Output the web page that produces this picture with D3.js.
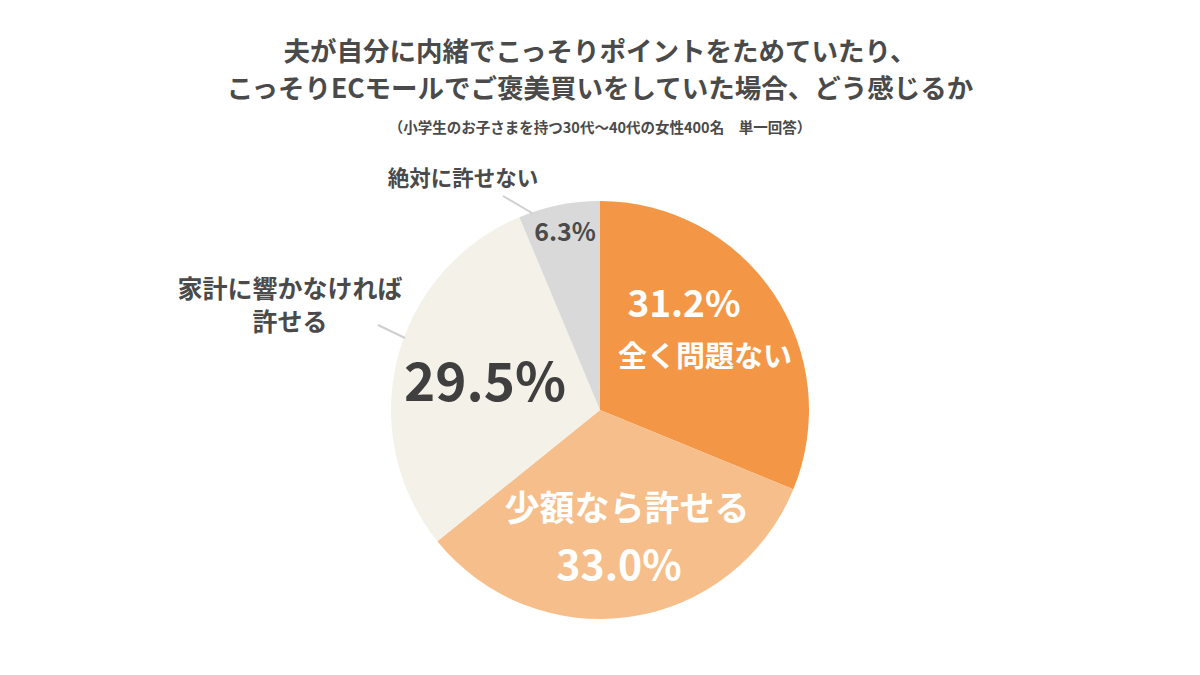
<!DOCTYPE html>
<html><head><meta charset="utf-8">
<script src="https://cdn.jsdelivr.net/npm/d3@7"></script>
<style>body{margin:0;background:#fff;}svg{display:block;font-family:"Noto Sans CJK JP","Noto Sans",sans-serif;}</style>
</head><body>
<svg id="c" width="1200" height="675"></svg>
<script>
const categories = ["全く問題ない","少額なら許せる","家計に響かなければ許せる","絶対に許せない"];
const values = [31.2, 33.0, 29.5, 6.3];
const colors = ["#F39746","#F6BE8B","#F3F1E8","#D9D9D9"];
const titleLines = ["夫が自分に内緒でこっそりポイントをためていたり、","こっそりECモールでご褒美買いをしていた場合、どう感じるか"];
const subtitle = "（小学生のお子さまを持つ30代〜40代の女性400名　単一回答）";

const svg = d3.select("#c");
const cx = 600, cy = 410, R = 209;
const textCol = "#4a4a4a";

svg.selectAll("text.title").data(titleLines).join("text")
  .attr("x", 600).attr("y", (d,i)=>61+i*37)
  .attr("text-anchor","middle").attr("font-size",26.5).attr("font-weight",700)
  .attr("fill",textCol).text(d=>d);
svg.append("text").attr("x",600).attr("y",133).attr("text-anchor","middle")
  .attr("font-size",14.5).attr("font-weight",700).attr("fill",textCol).text(subtitle);

const pie = d3.pie().sort(null).value(d=>d)(values);
const arc = d3.arc().innerRadius(0).outerRadius(R);
const g = svg.append("g").attr("transform",`translate(${cx},${cy})`);
g.selectAll("path").data(pie).join("path").attr("d",arc).attr("fill",(d,i)=>colors[i]);

// leader lines
const lineCol = "#cfcfcf";
svg.append("line").attr("x1",503).attr("y1",196).attr("x2",532).attr("y2",213).attr("stroke",lineCol).attr("stroke-width",2);
svg.append("line").attr("x1",378).attr("y1",325).attr("x2",405).attr("y2",338).attr("stroke",lineCol).attr("stroke-width",2);

function t(x,y,s,size,fill){
  svg.append("text").attr("x",x).attr("y",y).attr("text-anchor","middle")
    .attr("font-size",size).attr("font-weight",700).attr("fill",fill).text(s);
}
const pct = v => v.toFixed(1)+"%";
t(684,317,pct(values[0]),37,"#fff");
t(705,367,categories[0],29,"#fff");
t(627,521,categories[1],35,"#fff");
t(619,580,pct(values[1]),41,"#fff");
t(485,401,pct(values[2]),53,"#3f3f3f");
t(565,241,pct(values[3]),25,textCol);
t(463,186,categories[3],21.5,textCol);
t(290,298,"家計に響かなければ",25,textCol);
t(290,331,"許せる",25,textCol);
</script>
</body></html>
